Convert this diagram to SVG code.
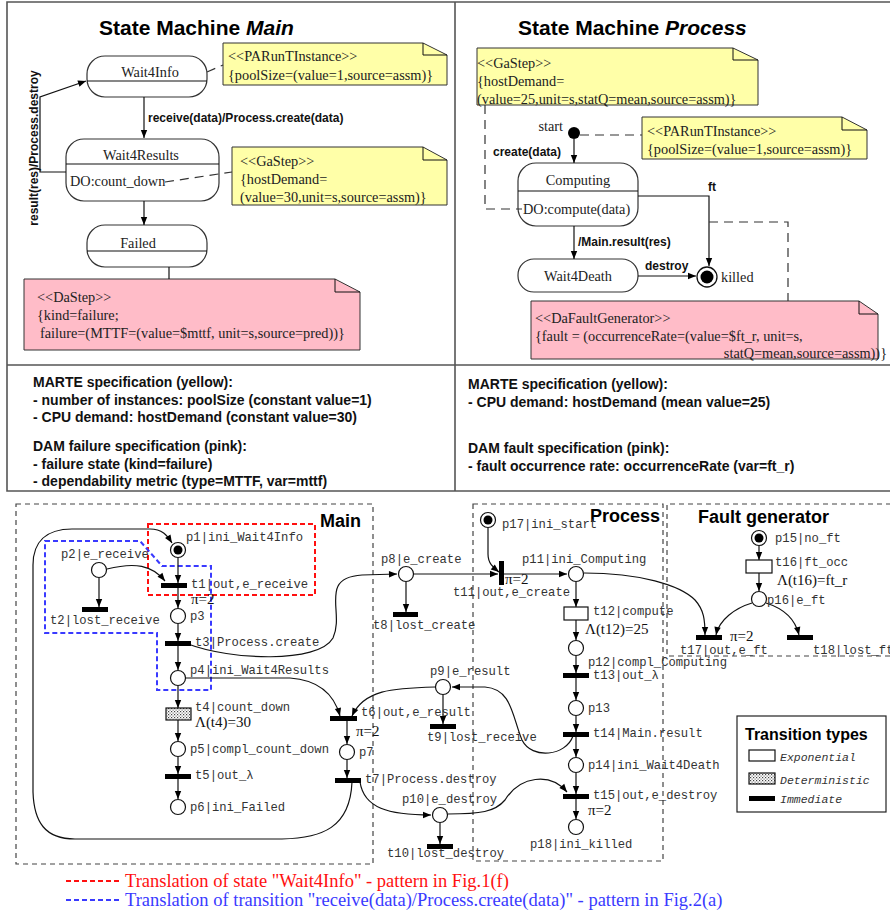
<svg xmlns="http://www.w3.org/2000/svg" width="890" height="916" viewBox="0 0 890 916">
<style>
.frame{fill:none;stroke:#555;stroke-width:1.6}
.state{fill:#fff;stroke:#333;stroke-width:1.2}
.ny{fill:#FFFFA8;stroke:#333;stroke-width:1}
.np{fill:#FFBCC8;stroke:#333;stroke-width:1}
.ln{fill:none;stroke:#111;stroke-width:1.2}
.dash{fill:none;stroke:#333;stroke-width:1.2;stroke-dasharray:9,6}
.serif{font-family:"Liberation Serif","Times New Roman",serif;font-size:14.3px;fill:#222}
.bold{font-family:"Liberation Sans",Arial,sans-serif;font-weight:bold;font-size:12px;fill:#111}
.title{font-family:"Liberation Sans",Arial,sans-serif;font-weight:bold;font-size:21px;fill:#000}
.spec{font-family:"Liberation Sans Narrow","Arial Narrow","Liberation Sans",sans-serif;font-weight:bold;font-size:14px;fill:#111}
.mono{font-family:"Liberation Mono","Courier New",monospace;font-size:12.2px;fill:#333}
.pi{font-family:"Liberation Serif","Times New Roman",serif;font-size:15px;fill:#111}
.place{fill:#fff;stroke:#111;stroke-width:1.2}
.imm{fill:#000}
.exp{fill:#fff;stroke:#111;stroke-width:1.2}
.det{fill:url(#dots);stroke:#111;stroke-width:1.2}
.box{fill:none;stroke:#444;stroke-width:1.2;stroke-dasharray:5,4}
.lbl{font-family:"Liberation Sans",Arial,sans-serif;font-weight:bold;font-size:18px;fill:#000}
.leg{font-family:"Liberation Serif","Times New Roman",serif;font-size:18.5px}
</style>
<defs>
<marker id="ah" viewBox="0 0 10 10" refX="10" refY="5" markerWidth="9" markerHeight="8" markerUnits="userSpaceOnUse" orient="auto"><path d="M0,1 L10,5 L0,9 z" fill="#000"/></marker>
<pattern id="dots" width="3" height="3" patternUnits="userSpaceOnUse"><rect width="3" height="3" fill="#fff"/><rect width="1.2" height="1.2" fill="#444"/><rect x="1.5" y="1.5" width="1.2" height="1.2" fill="#777"/></pattern>
</defs>
<rect width="890" height="916" fill="#fff"/>

<!-- frames -->
<g id="frames">
<polyline class="frame" points="890,2 7,2 7,491 890,491"/>
<line class="frame" x1="455" y1="2" x2="455" y2="491"/>
<line class="frame" x1="7" y1="365" x2="890" y2="365"/>
</g>

<!-- State Machine Main -->
<text class="title" x="99" y="35">State Machine <tspan font-style="italic">Main</tspan></text>
<g id="Wait4Info">
<rect class="state" x="87" y="56" width="120" height="41" rx="18"/>
<line class="ln" x1="87" y1="81" x2="207" y2="81"/>
<text class="serif" x="150" y="77" text-anchor="middle">Wait4Info</text>
</g>
<g id="Wait4Results">
<rect class="state" x="66" y="139" width="153" height="62" rx="18"/>
<line class="ln" x1="66" y1="164" x2="219" y2="164"/>
<text class="serif" x="141" y="160" text-anchor="middle">Wait4Results</text>
<text class="serif" x="70" y="186">DO:count_down</text>
</g>
<g id="Failed">
<rect class="state" x="87" y="225" width="120" height="42" rx="18"/>
<line class="ln" x1="87" y1="251" x2="207" y2="251"/>
<text class="serif" x="138" y="248" text-anchor="middle">Failed</text>
</g>
<g id="noteMainPA">
<polygon class="ny" points="223,43 423,43 447,55 447,85 223,85"/>
<polyline class="ln" points="423,43 423,55 447,55" style="stroke-width:1"/>
<text class="serif" x="228" y="61">&lt;&lt;PARunTInstance&gt;&gt;</text>
<text class="serif" x="228" y="80">{poolSize=(value=1,source=assm)}</text>
</g>
<g id="noteMainGa">
<polygon class="ny" points="232,147 423,147 447,160 447,205 232,205"/>
<polyline class="ln" points="423,147 423,160 447,160" style="stroke-width:1"/>
<text class="serif" x="240" y="166">&lt;&lt;GaStep&gt;&gt;</text>
<text class="serif" x="240" y="184">{hostDemand=</text>
<text class="serif" x="240" y="202">(value=30,unit=s,source=assm)}</text>
</g>
<g id="noteMainDa">
<polygon class="np" points="24,279 335,279 360,292 360,350 24,350"/>
<polyline class="ln" points="335,279 335,292 360,292" style="stroke-width:1"/>
<text class="serif" x="37" y="302">&lt;&lt;DaStep&gt;&gt;</text>
<text class="serif" x="37" y="320">{kind=failure;</text>
<text class="serif" x="40" y="338">failure=(MTTF=(value=$mttf, unit=s,source=pred))}</text>
</g>

<!-- State Machine Process -->
<text class="title" x="518" y="35">State Machine <tspan font-style="italic">Process</tspan></text>
<g id="noteProcGa">
<polygon class="ny" points="477,48 733,48 758,60 758,105 477,105"/>
<polyline class="ln" points="733,48 733,60 758,60" style="stroke-width:1"/>
<text class="serif" x="477" y="68">&lt;&lt;GaStep&gt;&gt;</text>
<text class="serif" x="477" y="86">{hostDemand=</text>
<text class="serif" x="477" y="104">(value=25,unit=s,statQ=mean,source=assm)}</text>
</g>
<g id="start">
<circle cx="574" cy="133" r="6" fill="#000"/>
<text class="serif" x="563" y="131" text-anchor="end">start</text>
</g>
<g id="noteProcPA">
<polygon class="ny" points="642,117 842,117 867,130 867,159 642,159"/>
<polyline class="ln" points="842,117 842,130 867,130" style="stroke-width:1"/>
<text class="serif" x="647" y="136">&lt;&lt;PARunTInstance&gt;&gt;</text>
<text class="serif" x="647" y="154">{poolSize=(value=1,source=assm)}</text>
</g>
<g id="Computing">
<rect class="state" x="518" y="163" width="120" height="63" rx="18"/>
<line class="ln" x1="518" y1="191" x2="638" y2="191"/>
<text class="serif" x="578" y="185" text-anchor="middle">Computing</text>
<text class="serif" x="523" y="214">DO:compute(data)</text>
</g>
<g id="Wait4Death">
<rect class="state" x="518" y="259" width="120" height="33" rx="16"/>
<text class="serif" x="578" y="281" text-anchor="middle">Wait4Death</text>
</g>
<g id="killed">
<circle cx="707" cy="277" r="10" fill="#fff" stroke="#111" stroke-width="1.3"/>
<circle cx="707" cy="277" r="6.5" fill="#000"/>
<text class="serif" x="721" y="282">killed</text>
</g>
<g id="noteProcDa">
<polygon class="np" points="531,301 859,301 878,314 878,359 531,359"/>
<polyline class="ln" points="859,301 859,314 878,314" style="stroke-width:1"/>
<text class="serif" x="535" y="323">&lt;&lt;DaFaultGenerator&gt;&gt;</text>
<text class="serif" x="535" y="341">{fault = (occurrenceRate=(value=$ft_r, unit=s,</text>
<text class="serif" x="887" y="358" text-anchor="end">statQ=mean,source=assm))}</text>
</g>

<!-- state machine connectors -->
<g id="sm-connectors">
<line class="ln" x1="144" y1="97" x2="144" y2="138" marker-end="url(#ah)"/>
<text class="bold" x="148" y="122">receive(data)/Process.create(data)</text>
<line class="ln" x1="144" y1="201" x2="144" y2="225" marker-end="url(#ah)"/>
<polyline class="ln" points="66,172 40,172 40,97 86,81" marker-end="url(#ah)"/>
<text class="bold" transform="translate(38,148) rotate(-90)" text-anchor="middle">result(res)/Process.destroy</text>
<line class="dash" x1="207" y1="72" x2="223" y2="65"/>
<line class="dash" x1="165" y1="182" x2="232" y2="172"/>
<line class="ln" x1="169" y1="267" x2="169" y2="279"/>
<line class="dash" x1="580" y1="135" x2="642" y2="135"/>
<line class="ln" x1="574" y1="139" x2="574" y2="163" marker-end="url(#ah)"/>
<text class="bold" x="493" y="156">create(data)</text>
<polyline class="dash" points="485,105 485,209 522,209"/>
<polyline class="ln" points="638,196 709,196 709,266" marker-end="url(#ah)"/>
<text class="bold" x="712" y="191" text-anchor="middle">ft</text>
<polyline class="dash" points="709,222 788,222 788,301"/>
<line class="ln" x1="574" y1="226" x2="574" y2="259" marker-end="url(#ah)"/>
<text class="bold" x="578" y="246">/Main.result(res)</text>
<line class="ln" x1="638" y1="276" x2="696" y2="276" marker-end="url(#ah)"/>
<text class="bold" x="645" y="270">destroy</text>
</g>

<!-- spec texts -->
<g id="spec-left">
<text class="spec" x="33" y="387">MARTE  specification (yellow):</text>
<text class="spec" x="33" y="405">- number of instances: poolSize (constant value=1)</text>
<text class="spec" x="33" y="422">- CPU demand: hostDemand (constant value=30)</text>
<text class="spec" x="33" y="451">DAM failure specification (pink):</text>
<text class="spec" x="33" y="469">- failure state (kind=failure)</text>
<text class="spec" x="33" y="486">- dependability metric (type=MTTF, var=mttf)</text>
</g>
<g id="spec-right">
<text class="spec" x="468" y="389">MARTE  specification (yellow):</text>
<text class="spec" x="468" y="407">- CPU demand: hostDemand (mean value=25)</text>
<text class="spec" x="468" y="453">DAM fault specification (pink):</text>
<text class="spec" x="468" y="471">- fault occurrence rate: occurrenceRate (var=ft_r)</text>
</g>

<!-- Petri net boxes -->
<g id="pn-boxes">
<rect class="box" x="16" y="504" width="357" height="360"/>
<text class="lbl" x="320" y="527">Main</text>
<rect class="box" x="473" y="504" width="190" height="357"/>
<text class="lbl" x="590" y="522">Process</text>
<polyline class="box" points="900,504 667,504 667,656 900,656"/>
<text class="lbl" x="698" y="523">Fault generator</text>
</g>

<!-- highlight boxes -->
<g id="highlights">
<rect x="148" y="524" width="167" height="71" fill="none" stroke="#ff1010" stroke-width="2" stroke-dasharray="5,3"/>
<polygon points="45,541 140,541 162,566 211,566 211,690 157,690 157,633 45,633" fill="none" stroke="#3a3aff" stroke-width="2" stroke-dasharray="5,3"/>
</g>

<!-- Petri net connectors -->
<g id="pn-connectors">
<line class="ln" x1="178" y1="558" x2="178" y2="583" marker-end="url(#ah)"/>
<path class="ln" d="M107,569 C135,562 152,565 165,581" marker-end="url(#ah)"/>
<line class="ln" x1="99" y1="578" x2="99" y2="607" marker-end="url(#ah)"/>
<line class="ln" x1="178" y1="587" x2="178" y2="608" marker-end="url(#ah)"/>
<line class="ln" x1="178" y1="624" x2="178" y2="641" marker-end="url(#ah)"/>
<line class="ln" x1="178" y1="645" x2="178" y2="670" marker-end="url(#ah)"/>
<line class="ln" x1="178" y1="686" x2="178" y2="708" marker-end="url(#ah)"/>
<line class="ln" x1="178" y1="720" x2="178" y2="741" marker-end="url(#ah)"/>
<line class="ln" x1="178" y1="757" x2="178" y2="774" marker-end="url(#ah)"/>
<line class="ln" x1="178" y1="778" x2="178" y2="799" marker-end="url(#ah)"/>
<path class="ln" d="M188,644 C230,660 318,664 333,638 C345,612 318,578 362,575 L397,574" marker-end="url(#ah)"/>
<line class="ln" x1="406" y1="582" x2="406" y2="612" marker-end="url(#ah)"/>
<path class="ln" d="M186,678 L290,678 C318,680 334,694 340,716" marker-end="url(#ah)"/>
<path class="ln" d="M435,687 C392,688 364,690 352,716" marker-end="url(#ah)"/>
<line class="ln" x1="443" y1="695" x2="443" y2="724" marker-end="url(#ah)"/>
<line class="ln" x1="347" y1="720" x2="347" y2="744" marker-end="url(#ah)"/>
<line class="ln" x1="347" y1="760" x2="347" y2="778" marker-end="url(#ah)"/>
<path class="ln" d="M360,782 C364,808 388,815 431,815" marker-end="url(#ah)"/>
<path class="ln" d="M352,782 C350,828 322,838 282,839 L75,839 C45,839 34,822 33,792 L33,565 C33,542 46,529 72,529 L150,529 C162,529 167,535 172,543" marker-end="url(#ah)"/>
<line class="ln" x1="440" y1="823" x2="440" y2="844" marker-end="url(#ah)"/>
<line class="ln" x1="414" y1="574" x2="498" y2="574" marker-end="url(#ah)"/>
<path class="ln" d="M488,528 L488,554 C488,564 494,568 499,572" marker-end="url(#ah)"/>
<line class="ln" x1="504" y1="574" x2="567" y2="574" marker-end="url(#ah)"/>
<line class="ln" x1="576" y1="582" x2="576" y2="607" marker-end="url(#ah)"/>
<line class="ln" x1="576" y1="620" x2="576" y2="640" marker-end="url(#ah)"/>
<line class="ln" x1="576" y1="656" x2="576" y2="673" marker-end="url(#ah)"/>
<line class="ln" x1="576" y1="677" x2="576" y2="700" marker-end="url(#ah)"/>
<line class="ln" x1="576" y1="716" x2="576" y2="732" marker-end="url(#ah)"/>
<line class="ln" x1="576" y1="736" x2="576" y2="757" marker-end="url(#ah)"/>
<line class="ln" x1="576" y1="773" x2="576" y2="794" marker-end="url(#ah)"/>
<line class="ln" x1="576" y1="798" x2="576" y2="819" marker-end="url(#ah)"/>
<path class="ln" d="M573,736 C566,756 532,760 522,740 C512,716 512,689 485,687 L452,687" marker-end="url(#ah)"/>
<path class="ln" d="M448,814 C480,814 495,812 505,800 C520,776 550,772 567,792" marker-end="url(#ah)"/>
<path class="ln" d="M584,573 C640,573 680,585 695,600 C704,610 705,620 705,635" marker-end="url(#ah)"/>
<line class="ln" x1="759" y1="546" x2="759" y2="560" marker-end="url(#ah)"/>
<line class="ln" x1="759" y1="573" x2="759" y2="591" marker-end="url(#ah)"/>
<path class="ln" d="M752,603 C735,608 719,620 716,635" marker-end="url(#ah)"/>
<path class="ln" d="M766,603 C782,608 795,618 799,635" marker-end="url(#ah)"/>
</g>

<!-- Places -->
<g id="p1"><circle class="place" cx="178" cy="550" r="7.5"/><circle cx="178" cy="550" r="4.5" fill="#000"/><text class="mono" x="186" y="541">p1|ini_Wait4Info</text></g>
<g id="p2"><circle class="place" cx="99" cy="570" r="7.5"/><text class="mono" x="61" y="558">p2|e_receive</text></g>
<g id="p3"><circle class="place" cx="178" cy="616" r="7.5"/><text class="mono" x="190" y="620">p3</text></g>
<g id="p4"><circle class="place" cx="178" cy="678" r="7.5"/><text class="mono" x="190" y="674">p4|ini_Wait4Results</text></g>
<g id="p5"><circle class="place" cx="178" cy="749" r="7.5"/><text class="mono" x="190" y="753">p5|compl_count_down</text></g>
<g id="p6"><circle class="place" cx="178" cy="807" r="7.5"/><text class="mono" x="190" y="811">p6|ini_Failed</text></g>
<g id="p7"><circle class="place" cx="347" cy="752" r="7.5"/><text class="mono" x="359" y="756">p7</text></g>
<g id="p8"><circle class="place" cx="406" cy="574" r="7.5"/><text class="mono" x="381" y="563">p8|e_create</text></g>
<g id="p9"><circle class="place" cx="443" cy="687" r="7.5"/><text class="mono" x="430" y="675">p9|e_result</text></g>
<g id="p10"><circle class="place" cx="440" cy="815" r="7.5"/><text class="mono" x="402" y="803">p10|e_destroy</text></g>
<g id="p11"><circle class="place" cx="576" cy="574" r="7.5"/><text class="mono" x="522" y="563">p11|ini_Computing</text></g>
<g id="p12"><circle class="place" cx="576" cy="648" r="7.5"/><text class="mono" x="588" y="666">p12|compl_Computing</text></g>
<g id="p13"><circle class="place" cx="576" cy="708" r="7.5"/><text class="mono" x="588" y="712">p13</text></g>
<g id="p14"><circle class="place" cx="576" cy="765" r="7.5"/><text class="mono" x="588" y="769">p14|ini_Wait4Death</text></g>
<g id="p15"><circle class="place" cx="759" cy="538" r="7.5"/><circle cx="759" cy="538" r="4.5" fill="#000"/><text class="mono" x="775" y="542">p15|no_ft</text></g>
<g id="p16"><circle class="place" cx="759" cy="599" r="7.5"/><text class="mono" x="767" y="604">p16|e_ft</text></g>
<g id="p17"><circle class="place" cx="488" cy="520" r="7.5"/><circle cx="488" cy="520" r="4.5" fill="#000"/><text class="mono" x="502" y="528">p17|ini_start</text></g>
<g id="p18"><circle class="place" cx="576" cy="827" r="7.5"/><text class="mono" x="530" y="848">p18|ini_killed</text></g>

<!-- Transitions -->
<g id="t1"><rect class="imm" x="161" y="583" width="26" height="5"/><text class="mono" x="191" y="588">t1|out,e_receive</text><text class="pi" x="191" y="604">π=2</text></g>
<g id="t2"><rect class="imm" x="82" y="607" width="26" height="5"/><text class="mono" x="50" y="624">t2|lost_receive</text></g>
<g id="t3"><rect class="imm" x="165" y="641" width="26" height="5"/><text class="mono" x="195" y="646">t3|Process.create</text></g>
<g id="t4"><rect class="det" x="166" y="708" width="25" height="12"/><text class="mono" x="195" y="711">t4|count_down</text><text class="pi" x="195" y="727">Λ(t4)=30</text></g>
<g id="t5"><rect class="imm" x="165" y="774" width="26" height="5"/><text class="mono" x="195" y="779">t5|out_λ</text></g>
<g id="t6"><rect class="imm" x="330" y="716" width="27" height="5"/><text class="mono" x="361" y="716">t6|out,e_result</text><text class="pi" x="356" y="736">π=2</text></g>
<g id="t7"><rect class="imm" x="335" y="778" width="26" height="5"/><text class="mono" x="365" y="783">t7|Process.destroy</text></g>
<g id="t8"><rect class="imm" x="393" y="612" width="25" height="5"/><text class="mono" x="373" y="629">t8|lost_create</text></g>
<g id="t9"><rect class="imm" x="430" y="724" width="26" height="5"/><text class="mono" x="427" y="741">t9|lost_receive</text></g>
<g id="t10"><rect class="imm" x="427" y="844" width="26" height="5"/><text class="mono" x="387" y="857">t10|lost_destroy</text></g>
<g id="t11"><rect class="imm" x="499" y="561" width="5" height="24"/><text class="mono" x="453" y="596">t11|out,e_create</text><text class="pi" x="505" y="584">π=2</text></g>
<g id="t12"><rect class="exp" x="564" y="607" width="24" height="13"/><text class="mono" x="593" y="615">t12|compute</text><text class="pi" x="585" y="634">Λ(t12)=25</text></g>
<g id="t13"><rect class="imm" x="563" y="673" width="26" height="5"/><text class="mono" x="593" y="679">t13|out_λ</text></g>
<g id="t14"><rect class="imm" x="563" y="732" width="26" height="5"/><text class="mono" x="593" y="737">t14|Main.result</text></g>
<g id="t15"><rect class="imm" x="563" y="794" width="26" height="5"/><text class="mono" x="593" y="799">t15|out,e_destroy</text><text class="pi" x="588" y="815">π=2</text></g>
<g id="t16"><rect class="exp" x="746" y="560" width="26" height="13"/><text class="mono" x="775" y="566">t16|ft_occ</text><text class="pi" x="777" y="585">Λ(t16)=ft_r</text></g>
<g id="t17"><rect class="imm" x="696" y="635" width="26" height="5"/><text class="mono" x="680" y="654">t17|out,e_ft</text><text class="pi" x="730" y="641">π=2</text></g>
<g id="t18"><rect class="imm" x="787" y="635" width="26" height="5"/><text class="mono" x="813" y="654">t18|lost_ft</text></g>

<!-- Transition types legend -->
<g id="legend-types">
<rect x="737" y="716" width="149" height="96" fill="#fff" stroke="#222" stroke-width="1.2"/>
<text class="lbl" x="745" y="740" style="font-size:16px">Transition types</text>
<rect class="exp" x="749" y="750" width="26" height="11"/>
<text class="mono" x="780" y="761" font-style="italic" style="font-size:11.5px">Exponential</text>
<rect class="det" x="749" y="773" width="26" height="11"/>
<text class="mono" x="780" y="784" font-style="italic" style="font-size:11.5px">Deterministic</text>
<rect class="imm" x="749" y="796" width="26" height="5"/>
<text class="mono" x="780" y="803" font-style="italic" style="font-size:11.5px">Immediate</text>
</g>

<!-- bottom legend -->
<g id="legend-bottom">
<line x1="66" y1="881" x2="120" y2="881" stroke="#ff1010" stroke-width="2" stroke-dasharray="5,3"/>
<text class="leg" x="125" y="887" fill="#ff1010">Translation of state "Wait4Info" - pattern in Fig.1(f)</text>
<line x1="66" y1="900" x2="120" y2="900" stroke="#3a3aff" stroke-width="2" stroke-dasharray="5,3"/>
<text class="leg" x="125" y="906" fill="#3a3aff">Translation of transition "receive(data)/Process.create(data)" - pattern in Fig.2(a)</text>
</g>
</svg>
